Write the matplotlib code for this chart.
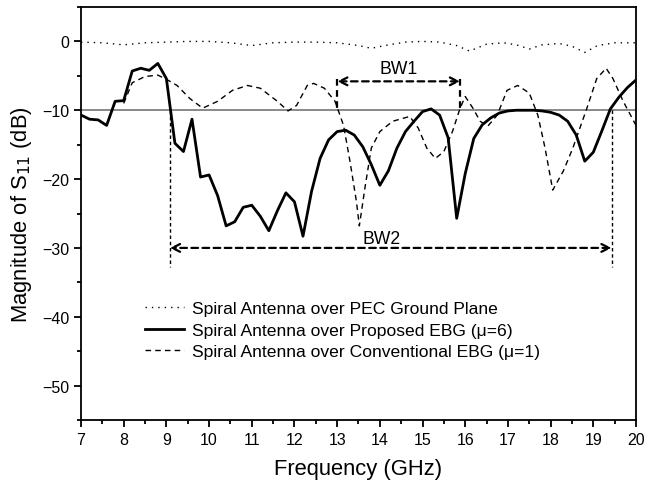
import matplotlib.pyplot as plt
from matplotlib.ticker import MultipleLocator

plt.rcParams['font.family'] = ['Liberation Sans', 'DejaVu Sans']

# PEC ground plane (dotted)
freq_pec = [7.0, 7.5, 8.0, 8.5, 9.0, 9.5, 10.0, 10.5, 11.0, 11.5, 12.0, 12.5, 13.0, 13.5,
            13.8, 14.2, 14.6, 15.0, 15.4, 15.8, 16.1, 16.5, 16.9, 17.2, 17.5, 17.8, 18.2,
            18.5, 18.8, 19.1, 19.5, 20.0]
s11_pec = [-0.1, -0.2, -0.5, -0.2, -0.1, 0.0, 0.0, -0.2, -0.6, -0.2, -0.1, -0.1, -0.2, -0.6,
           -1.0, -0.5, -0.1, 0.0, -0.1, -0.6, -1.4, -0.4, -0.2, -0.5, -1.1, -0.5, -0.3,
           -0.7, -1.6, -0.6, -0.2, -0.2]

# Proposed EBG (mu=6), solid
freq_prop = [7.0, 7.2, 7.4, 7.6, 7.8, 8.0, 8.2, 8.4, 8.6, 8.8, 9.0, 9.2, 9.4, 9.6, 9.8,
             10.0, 10.2, 10.4, 10.6, 10.8, 11.0, 11.2, 11.4, 11.6, 11.8, 12.0, 12.2, 12.4,
             12.6, 12.8, 13.0, 13.2, 13.4, 13.6, 13.8, 14.0, 14.2, 14.4, 14.6, 14.8, 15.0,
             15.2, 15.4, 15.6, 15.8, 16.0, 16.2, 16.4, 16.6, 16.8, 17.0, 17.2, 17.4, 17.6,
             17.8, 18.0, 18.2, 18.4, 18.6, 18.8, 19.0, 19.2, 19.4, 19.6, 19.8, 20.0]
s11_prop = [-10.7, -11.3, -11.4, -12.2, -8.7, -8.6, -4.3, -3.9, -4.2, -3.2, -5.4, -14.8,
            -16.0, -11.3, -19.7, -19.4, -22.4, -26.8, -26.2, -24.1, -23.8, -25.4, -27.5,
            -24.6, -22.0, -23.3, -28.3, -21.8, -17.0, -14.3, -13.1, -12.9, -13.6, -15.3,
            -17.9, -20.9, -18.8, -15.5, -13.1, -11.6, -10.2, -9.8, -10.7, -14.0, -25.7,
            -19.2, -14.1, -12.1, -11.1, -10.4, -10.1, -10.0, -10.0, -10.0, -10.1, -10.3,
            -10.7, -11.6, -13.6, -17.4, -16.1, -13.0, -9.8, -8.1, -6.7, -5.6]

# Conventional EBG (mu=1), dashed
freq_conv = [8.0, 8.2, 8.5, 8.8, 9.0, 9.25, 9.55, 9.85, 10.2, 10.55, 10.9, 11.2, 11.6,
             11.85, 12.05, 12.3, 12.45, 12.7, 12.95, 13.15, 13.3, 13.45, 13.52, 13.65, 13.8,
             14.0, 14.3, 14.7, 14.9, 15.1, 15.3, 15.5, 15.7, 15.88, 16.0, 16.18, 16.35,
             16.53, 16.75, 16.98, 17.23, 17.5, 17.7, 17.87, 18.05, 18.3, 18.52, 18.85,
             19.08, 19.3, 19.46, 19.7, 20.0]
s11_conv = [-9.0, -6.0, -5.1, -4.9, -5.5, -6.4, -8.3, -9.7, -8.7, -7.1, -6.4, -6.8, -8.7,
            -10.1, -9.3, -6.4, -6.1, -6.8, -8.7, -12.2, -17.4, -23.2, -26.8, -21.3, -15.5,
            -13.1, -11.6, -10.9, -12.6, -15.5, -17.0, -16.0, -13.1, -9.7, -8.0, -9.7, -11.6,
            -12.3, -10.7, -7.1, -6.4, -7.5, -10.7, -15.5, -21.6, -18.8, -15.5, -9.7,
            -5.4, -3.9, -5.4, -8.7, -12.2]

# bandwidth markers
bw1 = [13.0, 15.88]
bw2 = [9.08, 19.43]

fig = plt.figure(figsize=(6.47, 4.85), dpi=100)
ax = fig.add_axes([81 / 647, 1 - 421 / 485, (636 - 81) / 647, (421 - 8) / 485])

ax.axhline(-10, color='#808080', lw=1.3, zorder=1)

ax.plot(freq_pec, s11_pec, color='black', lw=1.0, ls=(0, (1, 3.6)),
        label='Spiral Antenna over PEC Ground Plane')
ax.plot(freq_prop, s11_prop, color='black', lw=2.0,
        label='Spiral Antenna over Proposed EBG (\u03bc=6)')
ax.plot(freq_conv, s11_conv, color='black', lw=1.0, ls=(0, (4, 3)),
        label='Spiral Antenna over Conventional EBG (\u03bc=1)')

# BW1
for x in bw1:
    ax.plot([x, x], [-5.5, -10], color='black', lw=1.6, ls=(0, (3, 2)))
ax.annotate('', xy=(bw1[0], -5.8), xytext=(bw1[1], -5.8),
            arrowprops=dict(arrowstyle='<->', lw=1.6, ls=(0, (3, 2)), color='black',
                            shrinkA=0, shrinkB=0, mutation_scale=14))
ax.text(sum(bw1) / 2, -3.9, 'BW1', ha='center', va='center', fontsize=12.7)

# BW2
for x in bw2:
    ax.plot([x, x], [-10, -32.8], color='black', lw=1.0, ls=(0, (2.5, 2)))
ax.annotate('', xy=(bw2[0], -30), xytext=(bw2[1], -30),
            arrowprops=dict(arrowstyle='<->', lw=1.6, ls=(0, (3, 2)), color='black',
                            shrinkA=0, shrinkB=0, mutation_scale=14))
ax.text(14.05, -28.7, 'BW2', ha='center', va='center', fontsize=12.7)

ax.set_xlim(7, 20)
ax.set_ylim(-55, 5)
ax.xaxis.set_major_locator(MultipleLocator(1))
ax.xaxis.set_minor_locator(MultipleLocator(0.5))
ax.yaxis.set_major_locator(MultipleLocator(10))
ax.yaxis.set_minor_locator(MultipleLocator(5))
ax.tick_params(which='both', direction='out', top=False, right=False, labelsize=11.5, width=1.3)
ax.tick_params(which='major', length=5)
ax.tick_params(which='minor', length=3)
for s in ax.spines.values():
    s.set_linewidth(1.3)

ax.set_xlabel('Frequency (GHz)', fontsize=15.8, labelpad=8)
ax.set_ylabel('Magnitude of S$_{11}$ (dB)', fontsize=15.8, labelpad=6)

ax.legend(loc='upper left', bbox_to_anchor=(145 / 647, 1 - 302 / 485),
          bbox_transform=fig.transFigure, frameon=False, fontsize=12.6,
          handlelength=2.2, handletextpad=0.5, borderpad=0, borderaxespad=0,
          labelspacing=0.35)

fig.savefig('out.png', dpi=100)
